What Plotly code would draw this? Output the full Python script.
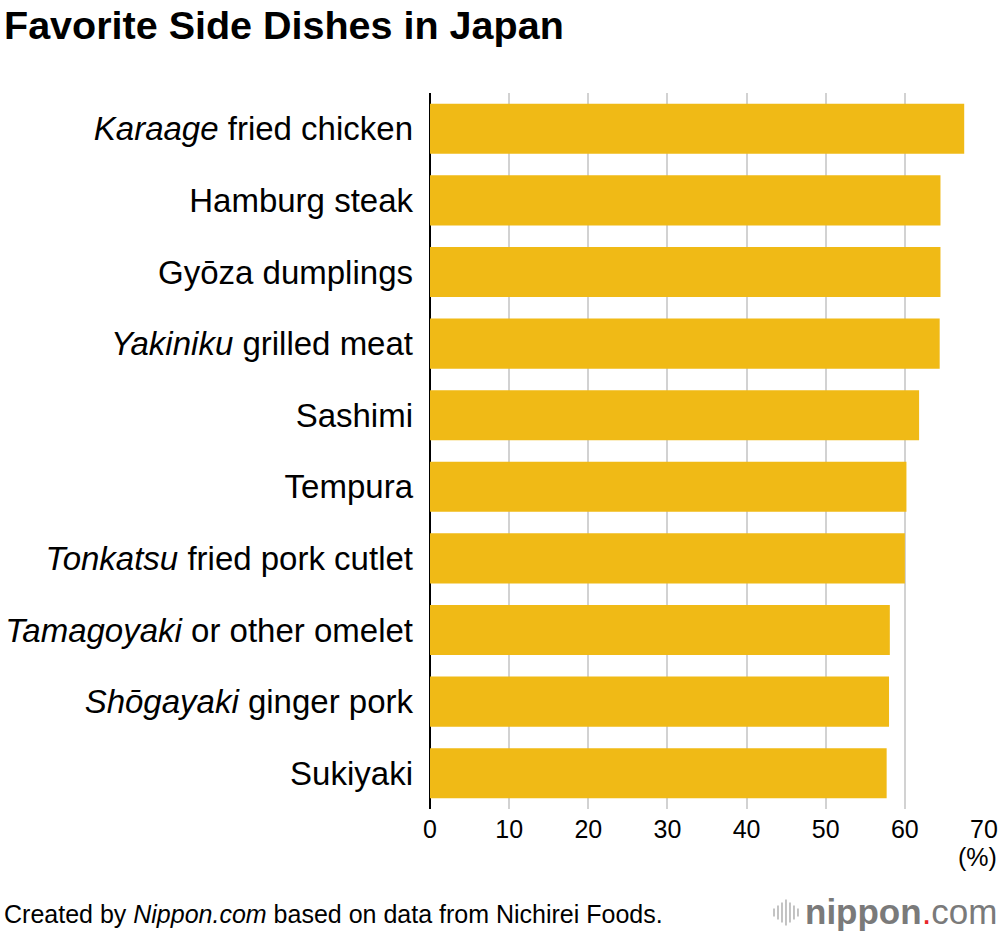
import plotly.graph_objects as go

# ---- data ----
categories = [
    "Karaage fried chicken", "Hamburg steak", "Gyōza dumplings", "Yakiniku grilled meat",
    "Sashimi", "Tempura", "Tonkatsu fried pork cutlet", "Tamagoyaki or other omelet",
    "Shōgayaki ginger pork", "Sukiyaki",
]
tick_labels = [
    "<i>Karaage</i> fried chicken", "Hamburg steak", "Gyōza dumplings",
    "<i>Yakiniku</i> grilled meat", "Sashimi", "Tempura",
    "<i>Tonkatsu</i> fried pork cutlet", "<i>Tamagoyaki</i> or other omelet",
    "<i>Shōgayaki</i> ginger pork", "Sukiyaki",
]
values = [67.5, 64.5, 64.5, 64.4, 61.8, 60.2, 60.0, 58.1, 58.0, 57.7]
x_ticks = [0, 10, 20, 30, 40, 50, 60, 70]

FONT = "Liberation Sans, Arial, Helvetica, sans-serif"
W, H = 1000, 936
L, R, T, B = 429.5, 984.3, 92.5, 809.4

def px(xp):
    return (xp - L) / (R - L)

def py(yp):
    return (B - yp) / (B - T)

fig = go.Figure(go.Bar(
    x=values, y=categories, orientation="h",
    marker=dict(color="#F0BA16", line=dict(width=0)),
    width=0.7, hoverinfo="skip",
))

fig.update_layout(
    width=W, height=H,
    margin=dict(l=L, r=W - R, t=T, b=H - B, pad=0, autoexpand=False),
    paper_bgcolor="white", plot_bgcolor="white",
    showlegend=False,
    font=dict(family=FONT, color="black"),
    xaxis=dict(
        range=[0, 70], tickvals=x_ticks, ticktext=[str(v) for v in x_ticks],
        showgrid=True, gridcolor="#d2d2d2", gridwidth=2,
        zeroline=True, zerolinecolor="black", zerolinewidth=1.5,
        showline=False, ticks="", ticklabelstandoff=3, automargin=False,
        tickfont=dict(size=25, family=FONT, color="black"),
        fixedrange=True,
    ),
    yaxis=dict(
        categoryorder="array", categoryarray=categories, autorange="reversed",
        tickvals=categories, ticktext=tick_labels,
        showgrid=False, zeroline=False, showline=False, ticks="",
        ticklabelstandoff=16, automargin=False,
        tickfont=dict(size=33, family=FONT, color="black"),
        fixedrange=True,
    ),
    annotations=[
        dict(text="<b>Favorite Side Dishes in Japan</b>", xref="paper", yref="paper",
             x=px(1), y=py(24), xanchor="left", yanchor="middle", showarrow=False,
             font=dict(size=39.5, family=FONT, color="black")),
        dict(text="(%)", xref="paper", yref="paper",
             x=px(999), y=py(857), xanchor="right", yanchor="middle", showarrow=False,
             font=dict(size=25, family=FONT, color="black")),
        dict(text="Created by <i>Nippon.com</i> based on data from Nichirei Foods.",
             xref="paper", yref="paper", x=px(1), y=py(915), xanchor="left",
             yanchor="middle", showarrow=False,
             font=dict(size=25, family=FONT, color="black")),
        dict(text="<b>nippon</b><span style='color:#e8262a'>.</span>com",
             xref="paper", yref="paper", x=px(999), y=py(912), xanchor="right",
             yanchor="middle", showarrow=False,
             font=dict(size=35, family=FONT, color="#7a7a7a")),
    ],
)

# decorative logo mark (vertical bars)
logo_heights = [8, 14, 20, 26, 20, 14, 8]
shapes = []
for i, h in enumerate(logo_heights):
    xp = 774 + i * 4
    shapes.append(dict(type="line", xref="paper", yref="paper",
                       x0=px(xp), x1=px(xp), y0=py(913 - h / 2), y1=py(913 + h / 2),
                       line=dict(color="#b5b5b5", width=1.6)))
fig.update_layout(shapes=shapes)

fig.write_html(
    "out.html",
    config={"displayModeBar": False},
    post_script="document.body.style.margin='0px';document.body.style.overflow='hidden';",
)
